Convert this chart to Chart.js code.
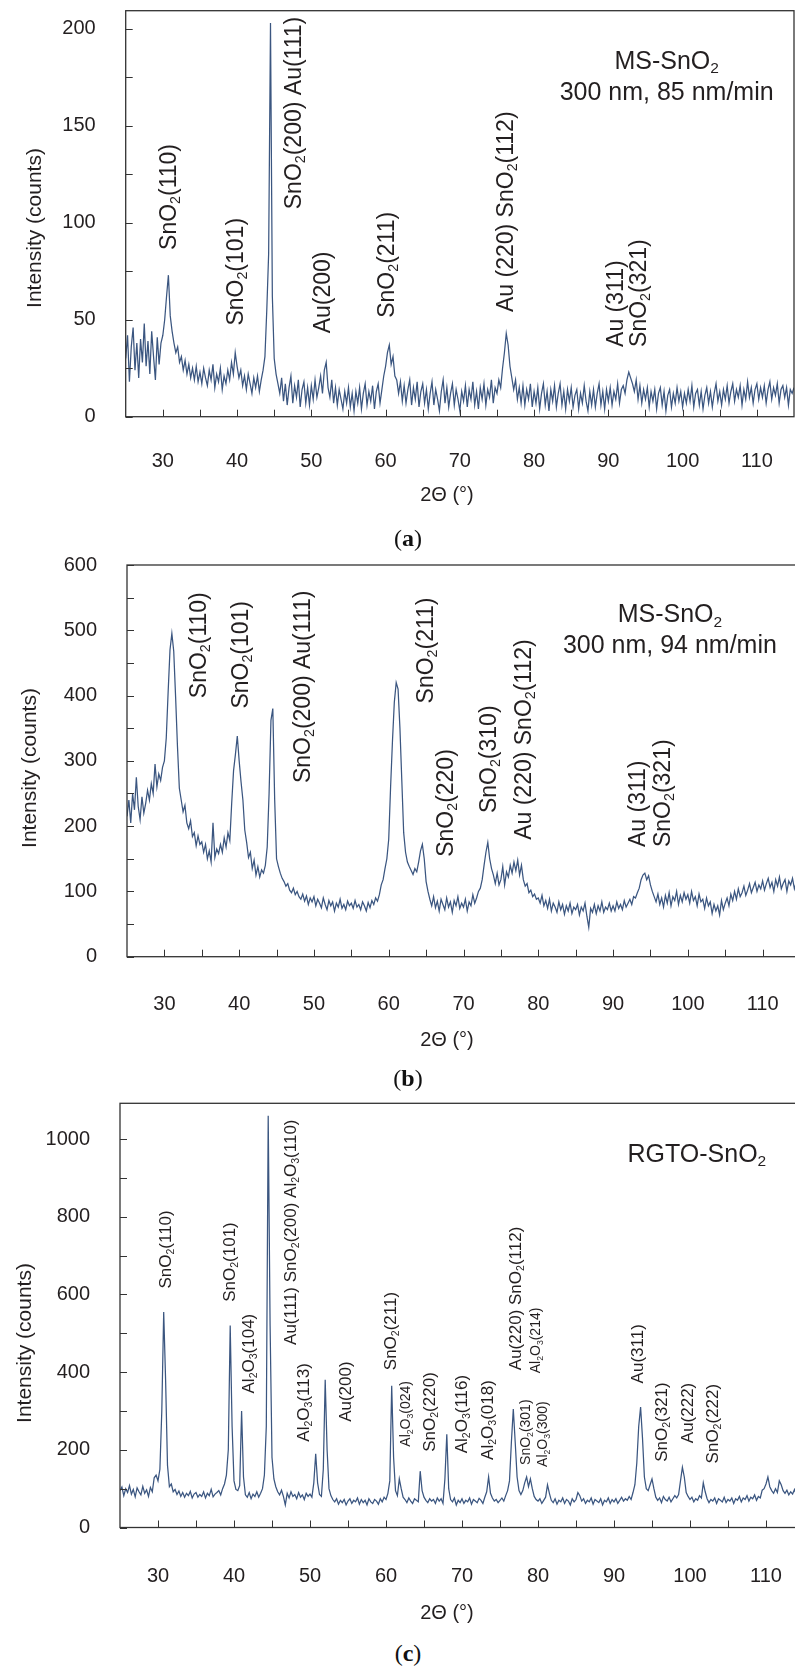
<!DOCTYPE html>
<html>
<head>
<meta charset="utf-8">
<title>XRD patterns of SnO2 films</title>
<script src="https://cdn.jsdelivr.net/npm/chart.js@4.4.1/dist/chart.umd.min.js"></script>
<style>
  html, body { margin: 0; padding: 0; background: #fff; overflow: hidden; width: 795px; height: 1668px; }
  canvas { position: absolute; left: 0; }
  .cap { position: absolute; left: 378px; width: 60px; text-align: center; color: #111;
         font: 24px "Liberation Serif", "Times New Roman", serif; line-height: 24px; }
</style>
</head>
<body>
<canvas id="chartA" width="795" height="520" style="top:0px"></canvas>
<canvas id="chartB" width="801" height="510" style="top:550px"></canvas>
<canvas id="chartC" width="805" height="540" style="top:1090px"></canvas>
<div class="cap" style="top:526px">(<b>a</b>)</div>
<div class="cap" style="top:1066px">(<b>b</b>)</div>
<div class="cap" style="top:1641px">(<b>c</b>)</div>

<script>
// ---- 2-theta sampling grid (deg): every series starts at 25 and steps 0.25 ----
const thetaStart = 25;
const thetaStep = 0.25;
const xTicks = [30, 35, 40, 45, 50, 55, 60, 65, 70, 75, 80, 85, 90, 95, 100, 105, 110];
const xTickLabels = [30, 40, 50, 60, 70, 80, 90, 100, 110];

// (a) MS-SnO2, 300 nm, 85 nm/min  -- one row = 5 deg
const xrdA = [
  30, 42, 18, 36, 46, 24, 38, 20, 40, 28, 48, 26, 39, 22, 44, 31, 19, 41, 27, 38,
  42, 50, 62, 73, 52, 44, 38, 33, 36, 28, 31, 24, 29, 22, 27, 20, 25, 19, 26, 18,
  23, 17, 25, 20, 16, 24, 19, 27, 15, 22, 18, 25, 14, 21, 17, 24, 19, 28, 22, 33,
  26, 20, 24, 16, 21, 14, 22, 17, 12, 20, 15, 21, 13, 19, 24, 31, 55, 84, 203, 62,
  30, 22, 17, 12, 20, 8, 17, 6, 15, 21, 7, 16, 10, 19, 5, 14, 18, 7, 15, 6,
  16, 9, 19, 10, 15, 21, 12, 24, 28, 15, 10, 19, 7, 15, 6, 14, 9, 4, 13, 7,
  15, 5, 12, 3, 13, 7, 15, 4, 12, 17, 6, 13, 8, 16, 4, 13, 17, 7, 14, 21,
  26, 33, 37, 27, 31, 21, 19, 12, 18, 8, 16, 7, 14, 19, 6, 15, 9, 18, 5, 13,
  17, 7, 14, 4, 12, 18, 6, 14, 9, 3, 13, 19, 7, 15, 5, 12, 17, 6, 14, 9,
  3, 13, 8, 16, 5, 14, 9, 18, 6, 13, 4, 15, 9, 17, 6, 14, 10, 19, 7, 15,
  12, 19, 15, 25, 33, 43, 37, 26, 20, 14, 19, 9, 15, 7, 16, 6, 14, 9, 17, 5,
  13, 7, 15, 4, 12, 17, 6, 13, 3, 14, 8, 16, 5, 12, 17, 6, 13, 4, 14, 8,
  15, 5, 11, 14, 4, 12, 7, 16, 8, 3, 13, 6, 14, 5, 12, 17, 6, 13, 4, 14,
  8, 15, 6, 13, 9, 17, 7, 14, 16, 12, 19, 23, 20, 17, 13, 19, 9, 16, 7, 14,
  9, 15, 5, 13, 8, 14, 4, 12, 15, 6, 13, 3, 11, 14, 5, 12, 7, 15, 8, 13,
  5, 12, 7, 14, 8, 16, 5, 12, 14, 6, 13, 4, 11, 15, 7, 13, 5, 12, 17, 8,
  13, 6, 14, 9, 16, 7, 13, 17, 8, 14, 10, 16, 6, 14, 9, 18, 10, 15, 7, 14,
  17, 9, 15, 10, 16, 7, 14, 18, 9, 15, 11, 17, 7, 14, 16, 10, 15, 6, 14, 12,
  15
];

// (b) MS-SnO2, 300 nm, 94 nm/min
const xrdB = [
  215, 240, 205, 250, 225, 275, 230, 210, 245, 220, 235, 255, 240, 265, 250, 295, 260, 280, 270, 290,
  300, 335, 405, 470, 495, 468, 398, 322, 258, 240, 222, 232, 205, 196, 208, 184, 190, 170, 185, 172,
  176, 160, 172, 150, 162, 145, 205, 152, 165, 158, 172, 160, 182, 168, 190, 178, 235, 285, 310, 338,
  300, 268, 240, 194, 175, 152, 160, 135, 148, 125, 138, 122, 133, 128, 140, 168, 250, 362, 380, 240,
  150, 138, 128, 120, 115, 108, 112, 102, 98, 105, 95, 100, 92, 88, 96, 85, 93, 80, 90, 84,
  92, 78, 88, 82, 75, 90, 80, 72, 86, 78, 84, 70, 82, 76, 88, 74, 80, 72, 85, 78,
  82, 74, 86, 76, 80, 72, 84, 78, 70, 83, 75, 86, 80, 90, 85, 95, 110, 118, 135, 150,
  180, 260, 330, 390, 420, 410, 350, 270, 190, 160, 145, 138, 132, 126, 135, 130, 145, 162, 172, 150,
  115, 100, 88, 78, 92, 75, 85, 70, 88, 80, 72, 90, 76, 84, 68, 86, 78, 92, 74, 82,
  76, 88, 70, 84, 78, 95, 82, 90, 100, 105, 118, 140, 160, 175, 150, 135, 125, 112, 128, 110,
  118, 138, 110, 130, 122, 140, 128, 145, 132, 148, 125, 140, 118, 108, 112, 98, 102, 92, 96, 88,
  90, 82, 94, 78, 86, 74, 88, 70, 82, 76, 68, 84, 72, 80, 65, 78, 70, 82, 66, 76,
  72, 80, 64, 76, 70, 82, 62, 45, 74, 68, 80, 66, 78, 70, 84, 68, 76, 72, 82, 70,
  78, 70, 84, 74, 80, 72, 86, 76, 82, 88, 80, 92, 90, 98, 105, 118, 125, 128, 118, 124,
  110, 100, 92, 84, 96, 80, 90, 76, 94, 82, 98, 78, 92, 86, 100, 80, 94, 84, 98, 88,
  95, 82, 100, 86, 92, 78, 96, 84, 88, 74, 90, 78, 84, 66, 80, 70, 78, 64, 86, 72,
  82, 90, 78, 96, 86, 100, 88, 104, 92, 98, 108, 94, 102, 112, 98, 106, 114, 100, 110, 104,
  116, 102, 112, 120, 106, 114, 100, 118, 108, 122, 104, 112, 118, 100, 116, 110, 120, 104, 114, 108,
  112
];

// (c) RGTO-SnO2
const xrdC = [
  95, 104, 82, 100, 90, 108, 86, 98, 79, 102, 92, 84, 106, 88, 97, 80, 103, 92, 128, 135,
  120, 150, 300, 555, 380, 160, 105, 112, 92, 98, 85, 94, 80, 90, 78, 88, 82, 93, 76, 86,
  90, 78, 85, 80, 92, 76, 88, 82, 98, 79, 86, 90, 95, 84, 100, 112, 135, 200, 520, 260,
  120, 98, 95, 108, 300, 130, 84, 78, 90, 74, 86, 80, 92, 78, 88, 100, 135, 260, 1060, 520,
  180, 125, 105, 92, 84, 96, 80, 58, 88, 76, 92, 80, 85, 74, 90, 78, 84, 72, 88, 80,
  86, 78, 115, 190, 115, 85, 80, 150, 380, 200, 100, 82, 72, 66, 74, 60, 70, 64, 72, 58,
  68, 74, 62, 70, 66, 76, 60, 72, 64, 70, 58, 74, 66, 62, 72, 68, 60, 74, 66, 78,
  72, 88, 120, 365, 180, 95, 82, 125, 100, 78, 72, 64, 76, 68, 62, 74, 70, 66, 145, 95,
  78, 70, 64, 74, 68, 72, 62, 76, 68, 74, 62, 125, 240, 100, 72, 66, 76, 58, 70, 64,
  74, 62, 70, 66, 76, 60, 72, 68, 64, 75, 70, 62, 78, 92, 130, 88, 76, 68, 72, 64,
  70, 76, 68, 82, 95, 120, 220, 305, 220, 130, 95, 85, 95, 115, 130, 105, 125, 100, 80, 72,
  68, 74, 62, 70, 78, 110, 88, 70, 64, 74, 60, 70, 66, 76, 62, 72, 68, 58, 74, 66,
  72, 90, 82, 68, 74, 62, 70, 66, 76, 60, 72, 68, 64, 74, 58, 70, 66, 76, 62, 72,
  66, 74, 62, 70, 78, 68, 74, 70, 80, 72, 90, 110, 166, 260, 310, 230, 130, 100, 95, 110,
  125, 100, 78, 70, 76, 64, 80, 72, 68, 78, 66, 74, 82, 76, 85, 120, 155, 130, 90, 80,
  72, 78, 66, 74, 70, 82, 76, 115, 92, 74, 64, 72, 68, 76, 62, 74, 70, 66, 78, 64,
  72, 68, 76, 62, 74, 70, 80, 66, 76, 72, 82, 68, 78, 74, 84, 70, 80, 76, 96, 100,
  112, 130, 105, 95, 88, 100, 90, 120, 110, 95, 88, 96, 84, 92, 86, 98, 84, 94, 80, 90,
  86
];

const yTicksA = [0, 25, 50, 75, 100, 125, 150, 175, 200];
const yLabelsA = [0, 50, 100, 150, 200];
const yTicksB = [0, 50, 100, 150, 200, 250, 300, 350, 400, 450, 500, 550, 600];
const yLabelsB = [0, 100, 200, 300, 400, 500, 600];
const yTicksC = [0, 100, 200, 300, 400, 500, 600, 700, 800, 900, 1000];
const yLabelsC = [0, 200, 400, 600, 800, 1000];

// peak labels: [2theta, intensity at the foot of the text, text, font px]; "_n" = subscript
const peaksA = [
  [30.97, 86, "SnO_2(110)"],
  [39.95, 47, "SnO_2(101)"],
  [47.8, 107, "SnO_2(200) Au(111)"],
  [51.7, 43, "Au(200)"],
  [60.3, 51, "SnO_2(211)"],
  [76.3, 54, "Au (220) SnO_2(112)"],
  [91.1, 36, "Au (311)"],
  [94.25, 36, "SnO_2(321)"],
];
const peaksB = [
  [34.76, 396, "SnO_2(110)"],
  [40.34, 380, "SnO_2(101)"],
  [48.58, 266, "SnO_2(200) Au(111)"],
  [65.08, 388, "SnO_2(211)"],
  [67.75, 153, "SnO_2(220)"],
  [73.54, 220, "SnO_2(310)"],
  [78.22, 179, "Au (220) SnO_2(112)"],
  [93.37, 168, "Au (311)"],
  [96.72, 168, "SnO_2(321)"],
];
const peaksC = [
  [31.14, 615, "SnO_2(110)", 17],
  [39.47, 581, "SnO_2(101)", 17],
  [42.0, 345, "Al_2O_3(104)", 17],
  [47.6, 470, "Au(111) SnO_2(200) Al_2O_3(110)", 17],
  [49.3, 221, "Al_2O_3(113)", 17],
  [54.8, 272, "Au(200)", 17],
  [60.75, 405, "SnO_2(211)", 17],
  [62.7, 208, "Al_2O_3(024)", 14],
  [65.8, 195, "SnO_2(220)", 17],
  [70.0, 191, "Al_2O_3(116)", 17],
  [73.5, 174, "Al_2O_3(018)", 17],
  [77.2, 405, "Au(220) SnO_2(112)", 17],
  [79.8, 397, "Al_2O_3(214)", 14],
  [78.5, 161, "SnO_2(301)", 14],
  [80.7, 156, "Al_2O_3(300)", 14],
  [93.2, 371, "Au(311)", 17],
  [96.3, 169, "SnO_2(321)", 17],
  [99.8, 217, "Au(222)", 17],
  [103.1, 165, "SnO_2(222)", 17],
];

// sample notes: [2theta, intensity (centre), text, font px]
const notesA = [[97.85, 183, "MS-SnO_2", 25], [97.85, 166.8, "300 nm, 85 nm/min", 25]];
const notesB = [[97.6, 523, "MS-SnO_2", 25], [97.6, 475, "300 nm, 94 nm/min", 25]];
const notesC = [[100.9, 959, "RGTO-SnO_2", 25]];

const LINE = "#3b5680";
const INK = "#231f20";
const AXIS = "#333333";
const FONT = '"Liberation Sans", Arial, Helvetica, sans-serif';

Chart.defaults.font.family = FONT;
Chart.defaults.color = INK;

function splitChem(str) {
  const out = [];
  const re = /_(\d)/g;
  let last = 0, m;
  while ((m = re.exec(str))) {
    if (m.index > last) out.push({ t: str.slice(last, m.index), sub: false });
    out.push({ t: m[1], sub: true });
    last = re.lastIndex;
  }
  if (last < str.length) out.push({ t: str.slice(last), sub: false });
  return out;
}

// draws text with subscripts; rotated text starts at (x,y) and runs upwards
function drawChem(ctx, str, x, y, size, rotate, center) {
  const segs = splitChem(str);
  const fontOf = (s) => `${s.sub ? size * 0.62 : size}px ${FONT}`;
  let w = 0;
  segs.forEach((s) => { ctx.font = fontOf(s); s.w = ctx.measureText(s.t).width; w += s.w; });
  ctx.save();
  ctx.translate(x, y);
  if (rotate) ctx.rotate(-Math.PI / 2);
  ctx.fillStyle = INK;
  ctx.textAlign = "left";
  ctx.textBaseline = "middle";
  let cx = center ? -w / 2 : 0;
  segs.forEach((s) => {
    ctx.font = fontOf(s);
    ctx.fillText(s.t, cx, s.sub ? size * 0.28 : 0);
    cx += s.w;
  });
  ctx.restore();
}

function decor(cfg) {
  return {
    id: "xrdDecor",
    afterDraw(chart) {
      const { ctx, chartArea: a, scales } = chart;
      const x = scales.x, y = scales.y;
      ctx.save();
      ctx.strokeStyle = AXIS;
      ctx.lineWidth = 1;
      ctx.beginPath();
      x.ticks.forEach((t) => {
        const px = Math.round(x.getPixelForValue(t.value)) + 0.5;
        ctx.moveTo(px, a.bottom); ctx.lineTo(px, a.bottom - 7);
      });
      y.ticks.forEach((t) => {
        const py = Math.round(y.getPixelForValue(t.value)) + 0.5;
        ctx.moveTo(a.left, py); ctx.lineTo(a.left + 7, py);
      });
      ctx.stroke();
      ctx.lineWidth = 1.3;
      ctx.strokeRect(a.left, a.top, a.right - a.left, a.bottom - a.top);
      ctx.restore();

      cfg.peaks.forEach(([deg, val, text, size]) =>
        drawChem(ctx, text, x.getPixelForValue(deg), y.getPixelForValue(val), size || 23, true, false));
      cfg.notes.forEach(([deg, val, text, size]) =>
        drawChem(ctx, text, x.getPixelForValue(deg), y.getPixelForValue(val), size, false, true));
      drawChem(ctx, "Intensity (counts)", cfg.yTitle[0], cfg.yTitle[1], 21, true, true);
      drawChem(ctx, "2\u0398 (\u00b0)", cfg.xTitle[0], cfg.xTitle[1], 20, false, true);
    },
  };
}

// the tick labels must not push the plot frame inwards
function noScalePadding(s) {
  s.paddingTop = 0; s.paddingBottom = 0; s.paddingLeft = 0; s.paddingRight = 0;
}

function makePanel(cfg) {
  const points = cfg.values.map((v, i) => ({ x: thetaStart + i * thetaStep, y: v }));
  return new Chart(document.getElementById(cfg.id), {
    type: "line",
    data: {
      datasets: [{
        data: points,
        borderColor: LINE,
        borderWidth: 1.25,
        pointRadius: 0,
        tension: 0,
        fill: false,
      }],
    },
    options: {
      responsive: false,
      animation: false,
      devicePixelRatio: 1,
      layout: { padding: { top: cfg.padTop, right: 1, left: 0, bottom: 0 } },
      plugins: { legend: { display: false }, tooltip: { enabled: false } },
      scales: {
        x: {
          type: "linear",
          min: 25,
          max: 115,
          grid: { display: false },
          border: { display: false },
          afterBuildTicks: (s) => { s.ticks = xTicks.map((v) => ({ value: v })); },
          ticks: {
            autoSkip: false,
            maxRotation: 0,
            padding: cfg.xPad,
            font: { size: 20 },
            color: INK,
            callback: (v) => (xTickLabels.includes(v) ? String(v) : ""),
          },
          afterFit: (s) => { s.height = cfg.xAxisH; noScalePadding(s); },
        },
        y: {
          min: 0,
          max: cfg.yMax,
          grid: { display: false },
          border: { display: false },
          afterBuildTicks: (s) => { s.ticks = cfg.yTicks.map((v) => ({ value: v })); },
          ticks: {
            autoSkip: false,
            padding: 22,
            font: { size: 20 },
            color: INK,
            callback: (v) => (cfg.yLabels.includes(v) ? String(v) : ""),
          },
          afterFit: (s) => { s.width = cfg.yAxisW; noScalePadding(s); },
        },
      },
    },
    plugins: [decor(cfg)],
  });
}

makePanel({
  id: "chartA", values: xrdA, yMax: 209.4, yTicks: yTicksA, yLabels: yLabelsA,
  padTop: 10.7, yAxisW: 125.7, xAxisH: 103.3, xPad: 25,
  peaks: peaksA, notes: notesA, yTitle: [35, 228], xTitle: [447, 495],
});
makePanel({
  id: "chartB", values: xrdB, yMax: 600, yTicks: yTicksB, yLabels: yLabelsB,
  padTop: 15, yAxisW: 127, xAxisH: 103.3, xPad: 28,
  peaks: peaksB, notes: notesB, yTitle: [30, 218], xTitle: [447, 490],
});
makePanel({
  id: "chartC", values: xrdC, yMax: 1092, yTicks: yTicksC, yLabels: yLabelsC,
  padTop: 13.3, yAxisW: 120, xAxisH: 102.5, xPad: 29,
  peaks: peaksC, notes: notesC, yTitle: [25, 253], xTitle: [447, 523],
});
</script>
</body>
</html>
